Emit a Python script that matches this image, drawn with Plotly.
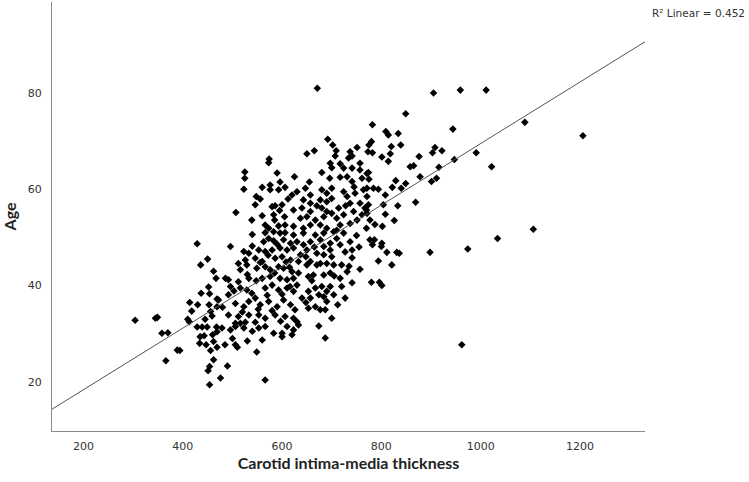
import numpy as np
import plotly.graph_objects as go

# Carotid intima-media thickness (x) and age (y)
cimt = [
    429, 450, 436, 467, 452, 437, 454, 469, 414, 453, 418, 456, 459, 304, 345, 349, 410, 413, 429, 439,
    449, 468, 358, 370, 435, 443, 460, 469, 434, 447, 462, 469, 389, 394, 456, 462, 366, 454, 451, 454,
    574, 573, 525, 525, 523, 560, 576, 576, 596, 593, 606, 625, 620, 548, 546, 580, 586, 600, 507, 583,
    585, 605, 539, 566, 573, 593, 606, 566, 583, 596, 606, 623,
    496, 523, 533, 563, 573, 583, 603, 617, 553, 566, 580, 596, 610, 623, 526, 546, 560, 586, 600, 617,
    516, 529, 549, 566, 576, 593, 603, 620, 486, 492, 512, 533, 560, 576, 596, 610, 623, 492, 496, 516,
    529, 539, 566, 580, 593, 610, 623, 472, 469, 506, 523, 533, 546, 556, 573, 590, 603, 617, 492, 512,
    533, 553, 566, 586, 606, 623, 506, 526, 546,
    479, 496, 506, 516, 523, 553, 566, 583, 600, 610, 620, 560, 600, 485, 506, 510, 549, 490, 476, 566,
    671, 692, 702, 709, 707, 650, 665, 737, 741, 734, 751, 697, 717, 724, 741, 757, 757, 771, 696, 717,
    731, 741, 761,
    630, 647, 657, 680, 690, 700, 724, 731, 747, 764, 771, 643, 657, 677, 690, 700, 737, 757, 767, 623,
    640, 657, 680, 690, 714, 744, 637, 650, 667, 684, 700, 710, 724, 761, 771, 643, 657, 677, 690, 717,
    737, 751, 623, 643, 667, 684, 704, 724, 630, 643, 657, 677, 684, 697, 710, 717, 737, 741, 637, 650,
    670, 684, 697, 657, 677, 741,
    633, 650, 670, 690, 704, 720, 757, 633, 653, 663, 684, 697, 717, 731, 741, 616, 630, 653, 667, 680,
    690, 697, 720, 640, 657, 674, 684, 704, 727, 626, 653, 667, 677, 687, 690, 700, 630, 633, 623, 674,
    687,
    905, 959, 849, 782, 809, 814, 834, 944, 780, 775, 773, 782, 820, 818, 839, 801, 814, 908, 903, 922,
    876, 947, 858, 865, 916, 774, 775, 878, 901, 911, 829, 822, 840, 849, 784, 794, 771, 808,
    869, 833, 804, 774, 770, 808, 826, 777, 787, 802, 770, 777, 786, 782, 801, 800, 811, 831, 836, 898,
    794, 821, 780, 796, 801,
    1011, 991, 1022, 1089, 1106, 1034, 974, 962, 1206,
    # overlapping marks in the dense core
    540, 556, 572, 590, 608, 548, 585, 615, 530, 600, 570, 552, 580, 597, 540, 520, 503, 512, 560, 595,
    612, 556, 590, 540, 648, 665, 700, 710, 727, 750, 660, 705, 648, 712, 735, 755, 670, 728, 655, 680,
    700, 745, 445, 430, 462, 480, 500, 530,
]
age = [
    48.7, 45.5, 44.3, 41.5, 39.7, 38.4, 38.3, 37.2, 36.5, 36.0, 34.7, 34.6, 33.7, 32.8, 33.2, 33.4, 33.0, 32.5, 31.4, 31.4,
    31.4, 31.4, 30.1, 30.2, 29.4, 29.6, 29.8, 30.4, 28.0, 27.7, 28.4, 27.2, 26.6, 26.5, 26.5, 24.6, 24.4, 23.2, 22.3, 19.4,
    66.3, 65.5, 63.6, 62.3, 60.0, 60.4, 60.9, 59.9, 61.5, 59.9, 60.4, 62.6, 58.8, 58.5, 56.8, 56.4, 56.6, 56.8, 55.2, 54.7,
    53.6, 54.3, 53.6, 52.6, 51.9, 52.4, 52.6, 51.0, 51.2, 50.9, 51.0, 52.3,
    48.1, 47.1, 46.7, 49.1, 49.8, 49.3, 49.5, 48.8, 47.4, 47.1, 47.4, 47.8, 47.4, 47.8, 45.3, 45.7, 45.0, 45.7, 46.0, 45.3,
    43.3, 44.3, 43.6, 43.9, 43.3, 43.9, 43.6, 42.9, 41.5, 41.2, 40.8, 41.5, 41.5, 41.9, 41.5, 41.2, 41.5, 38.1, 39.8, 39.5,
    39.1, 38.4, 39.5, 40.1, 39.1, 39.5, 38.8, 37.0, 35.6, 36.3, 35.6, 36.7, 37.4, 36.0, 36.7, 35.6, 37.0, 36.0, 33.9, 33.6,
    33.9, 33.9, 33.2, 33.9, 33.6, 33.2, 32.2, 32.4, 32.4,
    31.2, 30.8, 31.5, 32.2, 31.2, 31.2, 31.5, 30.1, 30.1, 31.5, 29.8, 28.7, 29.4, 27.7, 27.7, 27.2, 26.2, 23.3, 20.8, 20.4,
    81.0, 70.4, 69.2, 68.0, 66.9, 67.4, 68.0, 67.8, 66.9, 66.5, 68.7, 65.4, 65.3, 64.4, 64.4, 65.4, 64.0, 63.3, 62.3, 62.5,
    62.6, 61.6, 62.3,
    59.5, 60.2, 58.8, 59.9, 59.2, 60.2, 59.5, 58.5, 59.2, 59.9, 58.5, 57.8, 57.1, 57.8, 57.4, 58.1, 57.1, 57.1, 56.1, 55.7,
    56.1, 55.4, 56.1, 55.4, 56.1, 55.4, 54.0, 54.3, 53.6, 54.3, 55.0, 54.0, 54.7, 54.7, 55.0, 51.9, 52.6, 52.6, 51.9, 52.6,
    52.9, 53.6, 50.5, 50.9, 50.5, 50.9, 51.2, 50.9, 49.1, 48.5, 49.1, 49.5, 48.1, 48.8, 49.8, 48.5, 49.1, 47.4, 46.4, 47.4,
    46.7, 46.4, 47.4, 45.0, 44.6, 45.8,
    45.0, 44.3, 44.3, 44.6, 44.3, 44.3, 43.4, 42.6, 41.9, 42.2, 42.2, 42.6, 41.5, 42.9, 40.6, 39.8, 40.1, 38.8, 39.5, 39.8,
    38.8, 39.8, 39.8, 37.4, 37.4, 38.1, 37.7, 38.1, 37.4, 35.0, 35.3, 35.6, 35.0, 35.0, 36.7, 33.2, 32.5, 31.8, 30.8, 31.6,
    29.1,
    80.0, 80.6, 75.7, 73.4, 72.0, 71.3, 71.6, 72.5, 69.9, 69.2, 67.8, 67.6, 68.9, 67.4, 69.2, 66.7, 65.8, 68.7, 67.6, 68.0,
    66.8, 66.2, 64.7, 64.9, 64.6, 63.5, 62.1, 62.6, 61.6, 62.3, 61.8, 60.4, 60.2, 61.2, 60.2, 60.0, 60.2, 58.8,
    57.3, 56.6, 56.8, 56.8, 55.7, 54.8, 53.5, 53.6, 52.7, 52.3, 51.9, 49.5, 49.5, 48.5, 48.8, 48.1, 46.9, 46.9, 46.7, 46.9,
    45.1, 44.3, 40.7, 40.7, 40.0,
    80.6, 67.6, 64.7, 73.9, 51.7, 49.8, 47.6, 27.7, 71.1,
    # overlapping marks in the dense core
    48.2, 44.8, 46.3, 48.6, 44.9, 41.0, 42.6, 43.8, 42.3, 38.2, 38.0, 35.1, 34.8, 32.6, 30.5, 34.5, 38.9, 44.6, 54.5, 55.6,
    58.0, 58.0, 63.4, 50.6, 46.0, 48.0, 46.0, 51.5, 47.0, 50.4, 41.0, 42.0, 36.5, 36.0, 44.0, 48.0, 56.6, 56.6, 61.5, 63.5,
    64.5, 60.5, 33.0, 36.0, 43.0, 35.5, 29.0, 28.5,
]

x_range = [136.6, 1331]
y_range = [9.8, 98.9]
x_ticks = [200, 400, 600, 800, 1000, 1200]
y_ticks = [20, 40, 60, 80]

# linear fit as shown in the chart (R² = 0.452)
fit_intercept = 5.6
fit_slope = 0.0639
line_x = np.array(x_range)
line_y = fit_intercept + fit_slope * line_x

fig = go.Figure()
fig.add_trace(go.Scatter(
    x=cimt, y=age, mode="markers",
    marker=dict(symbol="diamond", size=5.8, color="black", line=dict(width=0)),
    showlegend=False, hoverinfo="skip",
))
fig.add_trace(go.Scatter(
    x=line_x, y=line_y, mode="lines",
    line=dict(color="#555555", width=1),
    showlegend=False, hoverinfo="skip",
))

axis_style = dict(
    showgrid=False, zeroline=False, showline=True, linecolor="#8a8a8a", linewidth=1,
    ticks="", tickfont=dict(family="DejaVu Sans", size=11, color="#333333"),
)
fig.update_xaxes(
    range=x_range, tickvals=x_ticks, ticklabelstandoff=5,
    title=dict(text="<b>Carotid intima-media thickness</b>", standoff=2,
               font=dict(family="Lato", size=16, color="#222222")),
    **axis_style,
)
fig.update_yaxes(
    range=y_range, tickvals=y_ticks, ticklabelstandoff=7,
    title=dict(text="<b>Age</b>", standoff=14,
               font=dict(family="Lato", size=16, color="#222222")),
    **axis_style,
)

fig.add_annotation(
    text="R² Linear = 0.452", xref="paper", yref="paper", x=1.172, y=0.975,
    xanchor="right", yanchor="middle", showarrow=False,
    font=dict(family="DejaVu Sans", size=10.5, color="#333333"),
)

fig.update_layout(
    width=749, height=482,
    margin=dict(l=52, r=104, t=2, b=51),
    paper_bgcolor="white", plot_bgcolor="white",
)

# page has a default 8px body margin; drop it so the figure sits at the corner
fig.write_html("out.html", config={"displayModeBar": False},
               post_script="document.body.style.margin='0';")
